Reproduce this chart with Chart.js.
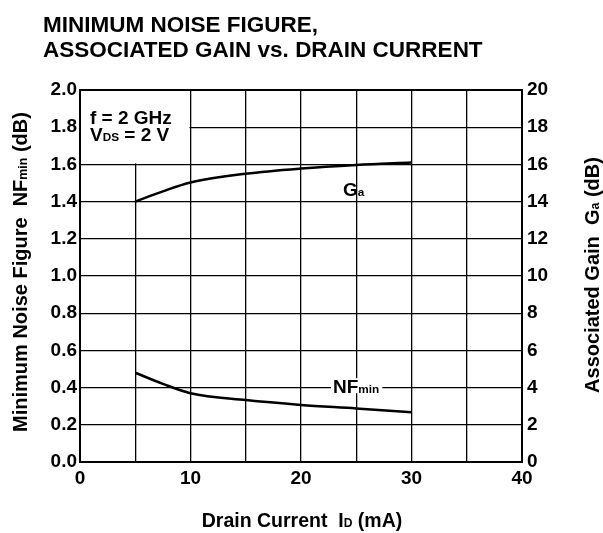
<!DOCTYPE html>
<html>
<head>
<meta charset="utf-8">
<script src="https://cdn.jsdelivr.net/npm/chart.js@4.4.1/dist/chart.umd.min.js"></script>
<style>
  html, body { margin: 0; padding: 0; background: #fff; }
  canvas { display: block; }
</style>
</head>
<body>
<canvas id="myChart" width="603" height="533"></canvas>
<script>
// Drain current (mA) and the two measured curves
const drainCurrent = [5, 7.5, 10, 15, 20, 25, 30];
const nfMin = [0.48, 0.42, 0.37, 0.333, 0.307, 0.288, 0.267];   // dB, left axis
const gainA = [14.0, 14.55, 15.03, 15.5, 15.78, 15.97, 16.1];   // dB, right axis

const xTicks = [0, 10, 20, 30, 40];
const nfTicks = [0, 0.2, 0.4, 0.6, 0.8, 1.0, 1.2, 1.4, 1.6, 1.8, 2.0];
const gainTicks = [0, 2, 4, 6, 8, 10, 12, 14, 16, 18, 20];

const FONT = '"Liberation Sans", Arial, Helvetica, sans-serif';

// draw a run of text pieces; pieces marked sub use a smaller font on the same baseline
function drawRich(ctx, parts, x, y, size, align) {
    ctx.textBaseline = 'alphabetic';
    ctx.textAlign = 'left';
    let total = 0;
    parts.forEach(p => {
        ctx.font = 'bold ' + (p.sub ? size * 0.62 : size) + 'px ' + FONT;
        total += ctx.measureText(p.t).width;
    });
    let cx = align === 'center' ? x - total / 2 : x;
    parts.forEach(p => {
        ctx.font = 'bold ' + (p.sub ? size * 0.62 : size) + 'px ' + FONT;
        ctx.fillText(p.t, cx, y);
        cx += ctx.measureText(p.t).width;
    });
    return total;
}

const annotations = {
    id: 'annotations',
    beforeDatasetsDraw(chart) {
        const ctx = chart.ctx;
        const x = chart.scales.x, y = chart.scales.y;
        // blank corner box for the test conditions
        ctx.save();
        ctx.fillStyle = '#fff';
        const l = x.getPixelForValue(0), r = x.getPixelForValue(10);
        const t = y.getPixelForValue(2.0), b = y.getPixelForValue(1.6);
        ctx.fillRect(l + 1, t + 1, r - l - 2, b - t - 2);
        ctx.fillStyle = '#000';
        drawRich(ctx, [{t: 'f = 2 GHz'}], 90, 124, 19);
        drawRich(ctx, [{t: 'V'}, {t: 'DS', sub: true}, {t: ' = 2 V'}], 90, 141, 19);
        ctx.restore();
    },
    afterDatasetsDraw(chart) {
        const ctx = chart.ctx;
        const x = chart.scales.x, y = chart.scales.y, y2 = chart.scales.y2;
        const a = chart.chartArea;
        ctx.save();
        // curve labels
        ctx.fillStyle = '#000';
        drawRich(ctx, [{t: 'G'}, {t: 'a', sub: true}], x.getPixelForValue(23.8), y2.getPixelForValue(14.3), 19);
        const nx = x.getPixelForValue(22.9), ny = y.getPixelForValue(0.37);
        ctx.font = 'bold 19px ' + FONT;
        const w = ctx.measureText('NF').width;
        ctx.font = 'bold ' + 19 * 0.62 + 'px ' + FONT;
        const w2 = ctx.measureText('min').width;
        ctx.fillStyle = '#fff';
        ctx.fillRect(nx - 2, ny - 15, w + w2 + 5, 15);
        ctx.fillStyle = '#000';
        drawRich(ctx, [{t: 'NF'}, {t: 'min', sub: true}], nx, ny, 19);

        // plot frame
        ctx.strokeStyle = '#000';
        ctx.lineWidth = 2;
        ctx.strokeRect(a.left, a.top, a.right - a.left, a.bottom - a.top);

        // title
        ctx.font = 'bold 22.5px ' + FONT;
        ctx.textAlign = 'left';
        ctx.fillText('MINIMUM NOISE FIGURE,', 43, 32);
        ctx.fillText('ASSOCIATED GAIN vs. DRAIN CURRENT', 43, 57);

        // axis titles
        drawRich(ctx, [{t: 'Drain Current  I'}, {t: 'D', sub: true}, {t: ' (mA)'}], 302, 527, 19.5, 'center');

        ctx.save();
        ctx.translate(27, 272);
        ctx.rotate(-Math.PI / 2);
        drawRich(ctx, [{t: 'Minimum Noise Figure  NF'}, {t: 'min', sub: true}, {t: ' (dB)'}], 0, 0, 20, 'center');
        ctx.restore();

        ctx.save();
        ctx.translate(599, 275);
        ctx.rotate(-Math.PI / 2);
        drawRich(ctx, [{t: 'Associated Gain  G'}, {t: 'a', sub: true}, {t: ' (dB)'}], 0, 0, 20, 'center');
        ctx.restore();

        ctx.restore();
    }
};

const tickFont = { family: FONT, size: 19, weight: 'bold' };

const ctx = document.getElementById('myChart').getContext('2d');
const chart = new Chart(ctx, {
    type: 'line',
    data: {
        datasets: [{
            label: 'NFmin',
            data: drainCurrent.map((v, i) => ({ x: v, y: nfMin[i] })),
            yAxisID: 'y',
            borderColor: '#000',
            borderWidth: 2.5,
            pointRadius: 0,
            cubicInterpolationMode: 'monotone'
        }, {
            label: 'Ga',
            data: drainCurrent.map((v, i) => ({ x: v, y: gainA[i] })),
            yAxisID: 'y2',
            borderColor: '#000',
            borderWidth: 2.5,
            pointRadius: 0,
            cubicInterpolationMode: 'monotone'
        }]
    },
    options: {
        responsive: false,
        animation: false,
        layout: { padding: { top: 90, left: 0, right: 0, bottom: 0 } },
        plugins: { legend: { display: false }, tooltip: { enabled: false } },
        scales: {
            x: {
                type: 'linear',
                min: 0, max: 40,
                afterFit: s => { s.height = 71; },
                afterBuildTicks: s => {
                    s.ticks = [];
                    for (let v = 0; v <= 40; v += 5) s.ticks.push({ value: v });
                },
                ticks: {
                    color: '#000', font: tickFont, padding: 5, maxRotation: 0, autoSkip: false,
                    callback: v => xTicks.includes(v) ? String(v) : ''
                },
                grid: { color: '#000', lineWidth: 1.3, drawTicks: false },
                border: { color: '#000', width: 2 }
            },
            y: {
                position: 'left',
                min: 0, max: 2,
                afterFit: s => { s.width = 80; },
                afterBuildTicks: s => { s.ticks = nfTicks.map(v => ({ value: v })); },
                ticks: { color: '#000', font: tickFont, padding: 3, callback: v => v.toFixed(1) },
                grid: { color: '#000', lineWidth: 1.3, drawTicks: false },
                border: { color: '#000', width: 2 }
            },
            y2: {
                position: 'right',
                min: 0, max: 20,
                afterFit: s => { s.width = 81; },
                afterBuildTicks: s => { s.ticks = gainTicks.map(v => ({ value: v })); },
                ticks: { color: '#000', font: tickFont, padding: 5, callback: v => String(v) },
                grid: { drawOnChartArea: false, drawTicks: false },
                border: { color: '#000', width: 2 }
            }
        }
    },
    plugins: [annotations]
});
</script>
</body>
</html>
